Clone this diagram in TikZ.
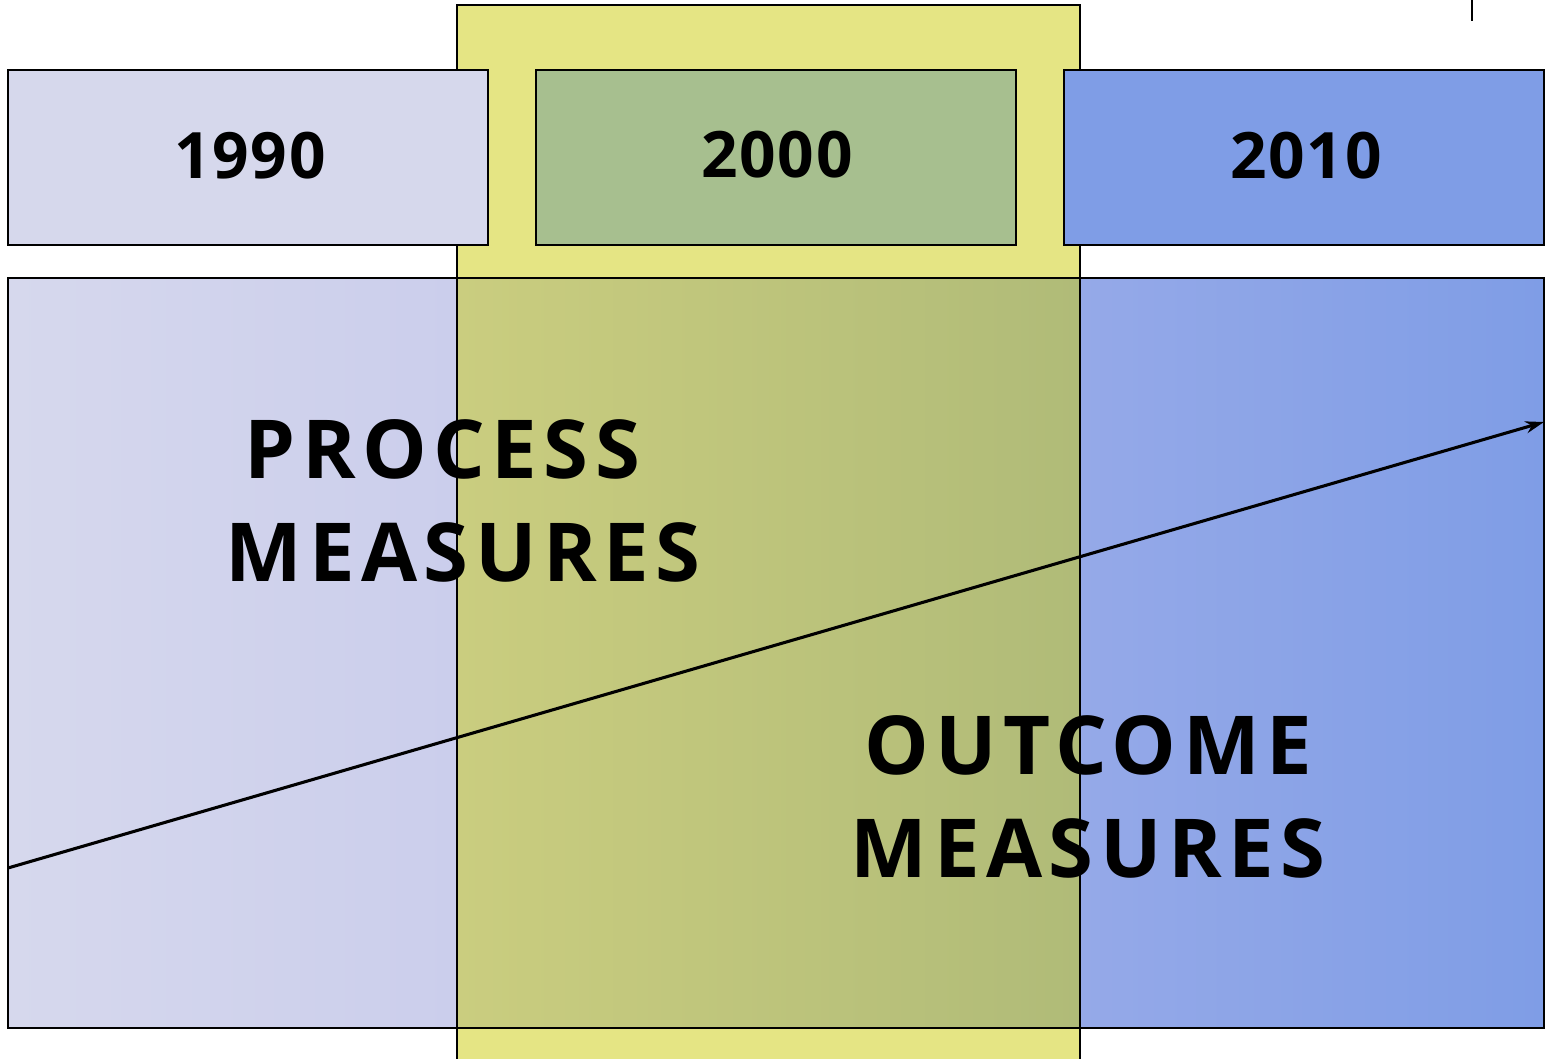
\documentclass[tikz,border=0pt]{standalone}
\usepackage{fontspec}
\setmainfont{Open Sans}
\newfontfamily\bigfont{Open Sans}[LetterSpace=8]
\newfontfamily\yearfont{Open Sans}[LetterSpace=3]
\usetikzlibrary{arrows.meta}
\definecolor{bandY}{RGB}{229,229,132}
\definecolor{lavA}{RGB}{214,216,237}
\definecolor{lavB}{RGB}{203,206,236}
\definecolor{olA}{RGB}{202,205,127}
\definecolor{olB}{RGB}{176,187,120}
\definecolor{blA}{RGB}{149,169,232}
\definecolor{blB}{RGB}{127,157,230}
\definecolor{box90}{RGB}{214,216,236}
\definecolor{box00}{RGB}{167,191,143}
\definecolor{box10}{RGB}{127,157,230}
\tikzset{
  yearbox/.style={draw=black, line width=1.5pt},
  yeartxt/.style={font=\yearfont\bfseries\fontsize{48}{58}\selectfont, inner sep=0pt},
  bigtxt/.style={font=\bigfont\bfseries\fontsize{61}{77}\selectfont, align=center, inner sep=0pt},
  edge/.style={draw=black, line width=1.2pt}
}
\begin{document}
\begin{tikzpicture}[x=0.75pt,y=-0.75pt]
\useasboundingbox (0,0) rectangle (1546,1059);
% yellow band
\fill[bandY] (457,5) rectangle (1080,1070);
\draw[edge] (457,1070) -- (457,5) -- (1080,5) -- (1080,1070);
% year boxes
\draw[yearbox, fill=box90] (8,70) rectangle (488,245);
\draw[yearbox, fill=box00] (536,70) rectangle (1016,245);
\draw[yearbox, fill=box10] (1064,70) rectangle (1544,245);
\node[yeartxt] (y1990) at (250,156) {1990};
\node[yeartxt] (y2000) at (777,155) {2000};
\node[yeartxt] (y2010) at (1306,156) {2010};
% big gradient rectangle in three parts
\shade[left color=lavA, right color=lavB] (8,278) rectangle (457,1028);
\shade[left color=olA, right color=olB] (457,278) rectangle (1080,1028);
\shade[left color=blA, right color=blB] (1080,278) rectangle (1544,1028);
\draw[edge] (8,278) rectangle (1544,1028);
\draw[edge] (457,278) -- (457,1059);
\draw[edge] (1080,278) -- (1080,1059);
% tick
\draw[line width=1.5pt] (1472,0) -- (1472,21);
% arrow
\coordinate (a0) at (8,868);
\coordinate (a1) at (1544,422);
\draw[line width=2.3pt, -{Stealth[length=14pt,width=9pt]}] (a0) -- (a1);
% texts
\node[bigtxt] (proc) at (463,501) {PROCESS\hspace*{31pt}\\MEASURES};
\node[bigtxt] (outc) at (1088,797) {OUTCOME\\MEASURES};
\end{tikzpicture}
\end{document}
